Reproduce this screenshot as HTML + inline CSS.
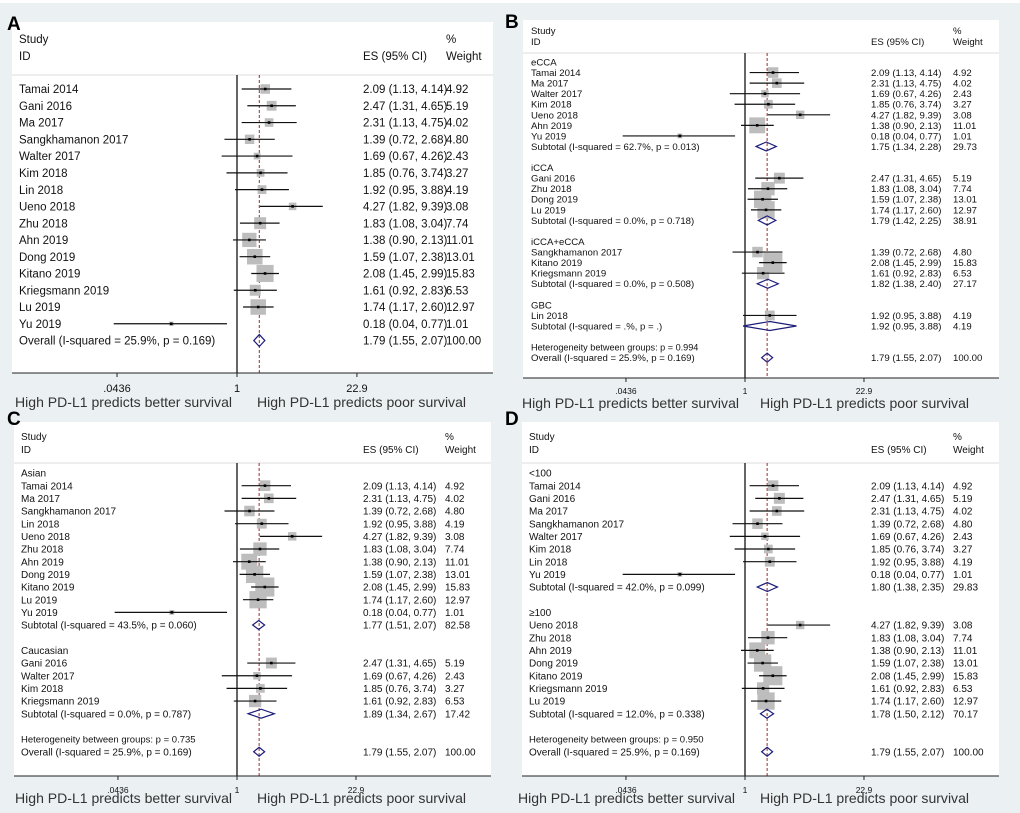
<!DOCTYPE html>
<html><head><meta charset="utf-8">
<style>
html,body{margin:0;padding:0;background:#ebf0f3;}
svg{display:block;font-family:"Liberation Sans",Arial,sans-serif;}
</style></head>
<body>
<svg id="fig" width="1020" height="813" viewBox="0 0 1020 813" xmlns="http://www.w3.org/2000/svg">
<rect x="0" y="0" width="1020" height="3" fill="#ffffff"/>
</svg>
<script>
// ---------- Panel A data ----------
const aNames=["Tamai 2014","Gani 2016","Ma 2017","Sangkhamanon 2017","Walter 2017","Kim 2018","Lin 2018","Ueno 2018","Zhu 2018","Ahn 2019","Dong 2019","Kitano 2019","Kriegsmann 2019","Lu 2019","Yu 2019"];
const aES=[2.09,2.47,2.31,1.39,1.69,1.85,1.92,4.27,1.83,1.38,1.59,2.08,1.61,1.74,0.18];
const aLo=[1.13,1.31,1.13,0.72,0.67,0.76,0.95,1.82,1.08,0.90,1.07,1.45,0.92,1.17,0.04];
const aHi=[4.14,4.65,4.75,2.68,4.26,3.74,3.88,9.39,3.04,2.13,2.38,2.99,2.83,2.60,0.77];
const aWt=[4.92,5.19,4.02,4.80,2.43,3.27,4.19,3.08,7.74,11.01,13.01,15.83,6.53,12.97,1.01];
const overallES=[1.79,1.55,2.07];
const overallI2="25.9%", overallP="0.169";
// ---------- Panel B data (by tumour type) ----------
const bGroups=["eCCA","iCCA","iCCA+eCCA","GBC"];
const bGroupIdx=[[0,2,4,5,7,9,14],[1,8,10,13],[3,11,12],[6]];
const bSubES=[1.75,1.79,1.82,1.92];
const bSubLo=[1.34,1.42,1.38,0.95];
const bSubHi=[2.28,2.25,2.40,3.88];
const bSubWt=["29.73","38.91","27.17","4.19"];
const bSubI2=["62.7%","0.0%","0.0%",".%"];
const bSubP=["0.013","0.718","0.508","."];
const bHetP="0.994";
// ---------- Panel C data (by ethnicity) ----------
const cGroups=["Asian","Caucasian"];
const cGroupIdx=[[0,2,3,6,7,8,9,10,11,13,14],[1,4,5,12]];
const cSubES=[1.77,1.89];
const cSubLo=[1.51,1.34];
const cSubHi=[2.07,2.67];
const cSubWt=["82.58","17.42"];
const cSubI2=["43.5%","0.0%"];
const cSubP=["0.060","0.787"];
const cHetP="0.735";
// ---------- Panel D data (by sample size) ----------
const dGroups=["<100","\u2265100"];
const dGroupIdx=[[0,1,2,3,4,5,6,14],[7,8,9,10,11,12,13]];
const dSubES=[1.80,1.78];
const dSubLo=[1.38,1.50];
const dSubHi=[2.35,2.12];
const dSubWt=["29.83","70.17"];
const dSubI2=["42.0%","12.0%"];
const dSubP=["0.099","0.338"];
const dHetP="0.950";
const tickVals=[0.0436,1,22.9];
const tickLabels=[".0436","1","22.9"];

const NS="http://www.w3.org/2000/svg";
const svg=document.getElementById('fig');
function mk(tag,attrs,parent){const e=document.createElementNS(NS,tag);for(const k in attrs)e.setAttribute(k,attrs[k]);(parent||svg).appendChild(e);return e;}
function txt(s,x,y,size,parent,extra){const e=mk('text',Object.assign({x:x,y:y,'font-size':size,fill:'#111'},extra||{}),parent);e.textContent=s;return e;}
function ci(e,l,h){return e.toFixed(2)+" ("+l.toFixed(2)+", "+h.toFixed(2)+")";}

function drawPanel(P){
  const g=mk('g',{});
  
  
  const xs=v=>P.x1+P.k*Math.log(v);
  const [bx0,by0,bx1,by1]=P.box;
  const bg=mk('rect',{x:bx0,y:by0,width:bx1-bx0,height:by1-by0,fill:'#fff'},g);
  
  
  const lt=txt(P.letter,P.lx,P.ly,19,g,{'font-weight':'bold',fill:'#000'});
  
  
  const fs=P.fs;
  txt("Study",P.tx,P.hy1,fs,g);
  txt("ID",P.tx,P.hy2,fs,g);
  txt("ES (95% CI)",P.esx,P.hy2,fs,g);
  txt("%",P.wx,P.hy1,fs,g);
  txt("Weight",P.wx,P.hy2,fs,g);
  mk('line',{x1:bx0,x2:bx1,y1:P.sep,y2:P.sep,stroke:'#ddd','stroke-width':1},g);
  // null line and overall line
  const nl=mk('line',{x1:P.x1,x2:P.x1,y1:P.sep,y2:by1,stroke:'#000','stroke-width':1.2},g);
  
  
  const ol=mk('line',{x1:xs(overallES[0]),x2:xs(overallES[0]),y1:P.sep,y2:by1,stroke:'#9b2d2d','stroke-width':1,'stroke-dasharray':'3,2'},g);
  
  
  // axis
  const ax=mk('line',{x1:bx0,x2:bx1,y1:by1,y2:by1,stroke:'#222','stroke-width':1},g);
  
  
  tickVals.forEach((v,i)=>{
    mk('line',{x1:xs(v),x2:xs(v),y1:by1,y2:by1+4,stroke:'#222','stroke-width':1},g);
    const t=txt(tickLabels[i],xs(v),P.tky,P.tkfs,g,{'text-anchor':'middle'});
    
    
  });
  const c1=txt("High PD-L1 predicts better survival",P.cap[0],P.capy,14,g,{fill:'#333',textLength:P.cap[1]-P.cap[0],lengthAdjust:'spacingAndGlyphs'});
  
  
  const c2=txt("High PD-L1 predicts poor survival",P.cap[2],P.capy,14,g,{fill:'#333',textLength:P.cap[3]-P.cap[2],lengthAdjust:'spacingAndGlyphs'});
  
  
  const rowY=i=>P.y0+i*P.dy;
  function study(idx,r){
    const y=rowY(r);
    txt(aNames[idx],P.tx,y+fs*0.36,fs,g);
    txt(ci(aES[idx],aLo[idx],aHi[idx]),P.esx,y+fs*0.36,fs,g);
    txt(aWt[idx].toFixed(2),P.wx,y+fs*0.36,fs,g);
    const s=P.sq*Math.sqrt(aWt[idx]);
    const sq=mk('rect',{x:xs(aES[idx])-s/2,y:y-s/2,width:s,height:s,fill:'#bdbdbd'},g);
    
    
    const l=mk('line',{x1:xs(aLo[idx]),x2:xs(aHi[idx]),y1:y,y2:y,stroke:'#111','stroke-width':1.2},g);
    
    
    const d=mk('rect',{x:xs(aES[idx])-1.3,y:y-1.3,width:2.6,height:2.6,fill:'#000'},g);
    
    
  }
  function diamond(e,l,h,y,hh,label,wt){
    txt(label,P.tx,y+fs*0.36,fs,g);
    txt(ci(e,l,h),P.esx,y+fs*0.36,fs,g);
    txt(wt,P.wx,y+fs*0.36,fs,g);
    const p=mk('polygon',{points:`${xs(l)},${y} ${xs(e)},${y-hh/2} ${xs(h)},${y} ${xs(e)},${y+hh/2}`,fill:'none',stroke:'#1c1c7a','stroke-width':1.2},g);
    
    
  }
  const ovLabel="Overall  (I-squared = "+overallI2+", p = "+overallP+")";
  if(!P.groups){
    aNames.forEach((n,i)=>study(i,i));
    diamond(overallES[0],overallES[1],overallES[2],rowY(aNames.length),P.dh,ovLabel,"100.00");
  } else {
    let r=0;
    P.groups.forEach((gname,gi)=>{
      txt(gname,P.tx,rowY(r)+fs*0.36,fs,g); r++;
      P.idx[gi].forEach(id=>{study(id,r);r++;});
      diamond(P.sES[gi],P.sLo[gi],P.sHi[gi],rowY(r),P.dh,"Subtotal  (I-squared = "+P.sI2[gi]+", p = "+P.sP[gi]+")",P.sWt[gi]);
      r+=2;
    });
    txt("Heterogeneity between groups: p = "+P.het,P.tx,rowY(r)+fs*0.36,fs*0.95,g); r++;
    diamond(overallES[0],overallES[1],overallES[2],rowY(r),P.dh,ovLabel,"100.00");
  }
}
drawPanel({name:'panel-a-overall',letter:'A',lx:7,ly:30,box:[12,22,493,373],x1:237,k:38.3,fs:11.5,tx:19,esx:363,wx:446,hy1:43,hy2:60,sep:75,y0:89,dy:16.77,sq:4.3,dh:12,tky:392,tkfs:11,capy:407,cap:[15,232,257,466]});
drawPanel({name:'panel-b-tumour-type',letter:'B',lx:505,ly:28,box:[523,20,999,378],x1:745,k:38.0,fs:9.6,tx:531,esx:871,wx:953,hy1:34,hy2:45,sep:53,y0:62,dy:10.56,sq:4.8,dh:9,tky:394,tkfs:8.5,capy:408,cap:[522,739,760,969],groups:bGroups,idx:bGroupIdx,sES:bSubES,sLo:bSubLo,sHi:bSubHi,sWt:bSubWt,sI2:bSubI2,sP:bSubP,het:bHetP});
drawPanel({name:'panel-c-ethnicity',letter:'C',lx:7,ly:425,box:[14,422,491,776],x1:237,k:38.0,fs:10,tx:21,esx:363,wx:445,hy1:440,hy2:453,sep:463,y0:473,dy:12.67,sq:4.8,dh:9,tky:793,tkfs:8.5,capy:803,cap:[15,232,257,466],groups:cGroups,idx:cGroupIdx,sES:cSubES,sLo:cSubLo,sHi:cSubHi,sWt:cSubWt,sI2:cSubI2,sP:cSubP,het:cHetP});
drawPanel({name:'panel-d-sample-size',letter:'D',lx:505,ly:425,box:[522,422,999,776],x1:745,k:38.0,fs:10,tx:529,esx:871,wx:953,hy1:440,hy2:453,sep:463,y0:473,dy:12.67,sq:4.8,dh:9,tky:793,tkfs:8.5,capy:803,cap:[518,735,760,969],groups:dGroups,idx:dGroupIdx,sES:dSubES,sLo:dSubLo,sHi:dSubHi,sWt:dSubWt,sI2:dSubI2,sP:dSubP,het:dHetP});
</script>
</body></html>
